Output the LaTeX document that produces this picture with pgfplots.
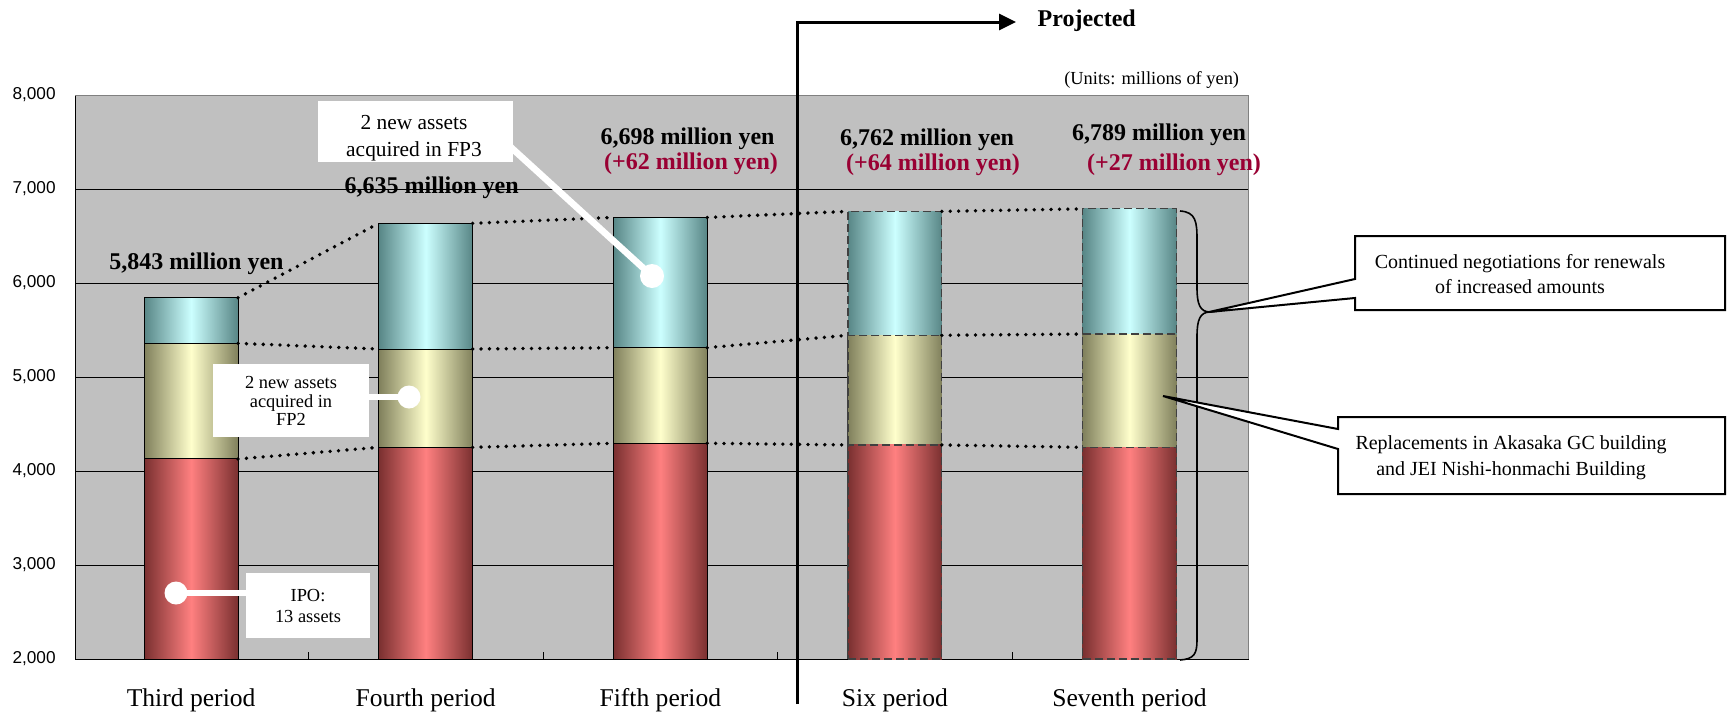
\documentclass[border=0pt]{standalone}
\usepackage{fontspec}
\setmainfont{Liberation Serif}
\newfontfamily\sansf{Liberation Sans}
\usepackage{pgfplots}
\pgfplotsset{compat=1.18}
\usetikzlibrary{arrows.meta}
\definecolor{bggray}{RGB}{192,192,192}
\definecolor{rlight}{RGB}{255,128,128}
\definecolor{rdark}{RGB}{122,48,48}
\definecolor{ylight}{RGB}{255,255,204}
\definecolor{ydark}{RGB}{128,128,92}
\definecolor{blight}{RGB}{204,255,255}
\definecolor{bdark}{RGB}{88,134,134}
\definecolor{crimson}{RGB}{153,0,51}
\pgfplotsset{
  barbase/.style={ybar, bar width=0.4, bar shift=0pt, draw=black, line width=0.5pt},
  projbar/.style={ybar, bar width=0.4, bar shift=0pt, draw=black!75, line width=0.6pt, dash pattern=on 4pt off 2pt},
  redsh/.style={left color=rdark, right color=rdark, middle color=rlight},
  yelsh/.style={left color=ydark, right color=ydark, middle color=ylight},
  blush/.style={left color=bdark, right color=bdark, middle color=blight},
  dotline/.style={black, line width=1.9pt, dash pattern=on 0pt off 4.2pt, line cap=round, mark=none, unbounded coords=jump},
}
\newcommand\lblfont{\bfseries\fontsize{12}{14}\selectfont}
\begin{document}
\begin{tikzpicture}
\path[use as bounding box] (0,0) rectangle (863.5pt,-356pt);
\begin{axis}[
  at={(37.5pt,-329.5pt)}, anchor=south west,
  scale only axis, width=586.5pt, height=282pt,
  xmin=0.505, xmax=5.505, ymin=2000, ymax=8000,
  axis background/.style={fill=bggray},
  axis line style={black, line width=0.5pt},
  ytick={2000,3000,4000,5000,6000,7000,8000},
  yticklabels={{2,000},{3,000},{4,000},{5,000},{6,000},{7,000},{8,000}},
  ymajorgrids, major grid style={black, line width=0.5pt},
  xtick={1,2,3,4,5},
  xticklabels={Third period, Fourth period, Fifth period, Six period, Seventh period},
  minor xtick={1.5,2.5,3.5,4.5},
  xtick pos=bottom, ytick pos=left,
  major tick length=0pt, minor tick length=3.5pt, tick align=inside,
  minor tick style={black, line width=0.5pt},
  xticklabel style={font=\fontsize{12.8}{15}\selectfont, anchor=base, inner sep=0pt, yshift=-23.5pt},
  yticklabel style={font=\sansf\fontsize{8.6}{10}\selectfont, anchor=east, inner sep=0pt, xshift=-9.5pt},
]
% Third period
\addplot[barbase, blush] coordinates {(1,5843)};
\addplot[barbase, yelsh] coordinates {(1,5358)};
\addplot[barbase, redsh] coordinates {(1,4128)};
% Fourth period
\addplot[barbase, blush] coordinates {(2,6635)};
\addplot[barbase, yelsh] coordinates {(2,5298)};
\addplot[barbase, redsh] coordinates {(2,4252)};
% Fifth period
\addplot[barbase, blush] coordinates {(3,6698)};
\addplot[barbase, yelsh] coordinates {(3,5312)};
\addplot[barbase, redsh] coordinates {(3,4295)};
% Six period (projected)
\addplot[projbar, blush] coordinates {(4,6762)};
\addplot[projbar, yelsh] coordinates {(4,5444)};
\addplot[projbar, redsh] coordinates {(4,4277)};
% Seventh period (projected)
\addplot[projbar, blush] coordinates {(5,6789)};
\addplot[projbar, yelsh] coordinates {(5,5457)};
\addplot[projbar, redsh] coordinates {(5,4252)};
% connector lines
\addplot[dotline] coordinates {(1.2,5843) (1.8,6635) (2,nan) (2.2,6635) (2.8,6698) (3,nan) (3.2,6698) (3.8,6762) (4,nan) (4.2,6762) (4.8,6789)};
\addplot[dotline] coordinates {(1.2,5358) (1.8,5298) (2,nan) (2.2,5298) (2.8,5312) (3,nan) (3.2,5312) (3.8,5444) (4,nan) (4.2,5444) (4.8,5457)};
\addplot[dotline] coordinates {(1.2,4128) (1.8,4252) (2,nan) (2.2,4252) (2.8,4295) (3,nan) (3.2,4295) (3.8,4277) (4,nan) (4.2,4277) (4.8,4252)};
\end{axis}
\begin{scope}[x=0.5pt, y=-0.5pt]
% gray top/right frame
\draw[black!50, line width=0.5pt] (75,95) -- (1248,95) -- (1248,659);
% projected arrow
\draw[line width=1.5pt, line join=miter, -{Triangle[length=8.5pt,width=8pt]}] (797,704) -- (797,22) -- (1016,22);
\node[anchor=base, inner sep=0pt, font=\bfseries\fontsize{12}{14}\selectfont] at (1086.7,26.7) {Projected};
\node[anchor=base, inner sep=0pt, font=\fontsize{9.2}{11}\selectfont] at (1151.7,84) {(Units: millions of yen)};
% bar totals
\node[anchor=base, inner sep=0pt, font=\lblfont] at (196.5,269.3) {5,843 million yen};
\node[anchor=base, inner sep=0pt, font=\lblfont] at (431.7,193.3) {6,635 million yen};
\node[anchor=base, inner sep=0pt, font=\lblfont] at (687.5,144) {6,698 million yen};
\node[anchor=base, inner sep=0pt, font=\lblfont, text=crimson] at (691,169.3) {(+62 million yen)};
\node[anchor=base, inner sep=0pt, font=\lblfont] at (927,145.7) {6,762 million yen};
\node[anchor=base, inner sep=0pt, font=\lblfont, text=crimson] at (933,170.7) {(+64 million yen)};
\node[anchor=base, inner sep=0pt, font=\lblfont] at (1159,140) {6,789 million yen};
\node[anchor=base, inner sep=0pt, font=\lblfont, text=crimson] at (1174,170.7) {(+27 million yen)};
% IPO callout
\draw[white, line width=3pt] (260,593) -- (176,593);
\fill[white] (176,593) circle (11.5);
\fill[white] (246,573) rectangle (370,638);
\node[anchor=base, inner sep=0pt, font=\fontsize{9.2}{11}\selectfont] at (308,601.7) {IPO:};
\node[anchor=base, inner sep=0pt, font=\fontsize{9.2}{11}\selectfont] at (308,622.7) {13 assets};
% FP2 callout
\draw[white, line width=3pt] (300,397) -- (409,397);
\fill[white] (409,397) circle (11.5);
\fill[white] (213,364) rectangle (369,437);
\node[anchor=base, inner sep=0pt, font=\fontsize{9.2}{11}\selectfont] at (291,388.5) {2 new assets};
\node[anchor=base, inner sep=0pt, font=\fontsize{9.2}{11}\selectfont] at (291,407) {acquired in};
\node[anchor=base, inner sep=0pt, font=\fontsize{9.2}{11}\selectfont] at (291,425.5) {FP2};
% FP3 callout
\draw[white, line width=3.3pt] (470,110) -- (652,276);
\fill[white] (652,276) circle (12);
\fill[white] (318,101) rectangle (513,162);
\node[anchor=base, inner sep=0pt, font=\fontsize{10.7}{13}\selectfont] at (414,129.3) {2 new assets};
\node[anchor=base, inner sep=0pt, font=\fontsize{10.7}{13}\selectfont] at (414,156) {acquired in FP3};
% brace
\draw[line width=0.8pt] (1180,211) .. controls (1196,212) and (1197,222) .. (1197,240) -- (1197,288)
  .. controls (1197,304) and (1200,312) .. (1210,312)
  .. controls (1200,312) and (1197,320) .. (1197,336) -- (1197,640)
  .. controls (1197,654) and (1194,659) .. (1180,660);
% right callouts
\draw[fill=white, line width=1pt, line join=miter] (1355,236) -- (1725,236) -- (1725,310) -- (1355,310) -- (1355,298) -- (1209,312) -- (1355,279) -- cycle;
\node[anchor=base, inner sep=0pt, font=\fontsize{10}{12}\selectfont] at (1520,268.3) {Continued negotiations for renewals};
\node[anchor=base, inner sep=0pt, font=\fontsize{10}{12}\selectfont] at (1520,293.3) {of increased amounts};
\draw[fill=white, line width=1pt, line join=miter] (1338,417) -- (1725,417) -- (1725,494) -- (1338,494) -- (1338,449) -- (1163,396) -- (1338,429) -- cycle;
\node[anchor=base, inner sep=0pt, font=\fontsize{10}{12}\selectfont] at (1511,449.3) {Replacements in Akasaka GC building};
\node[anchor=base, inner sep=0pt, font=\fontsize{10}{12}\selectfont] at (1511,475) {and JEI Nishi-honmachi Building};
\end{scope}
\end{tikzpicture}
\end{document}
